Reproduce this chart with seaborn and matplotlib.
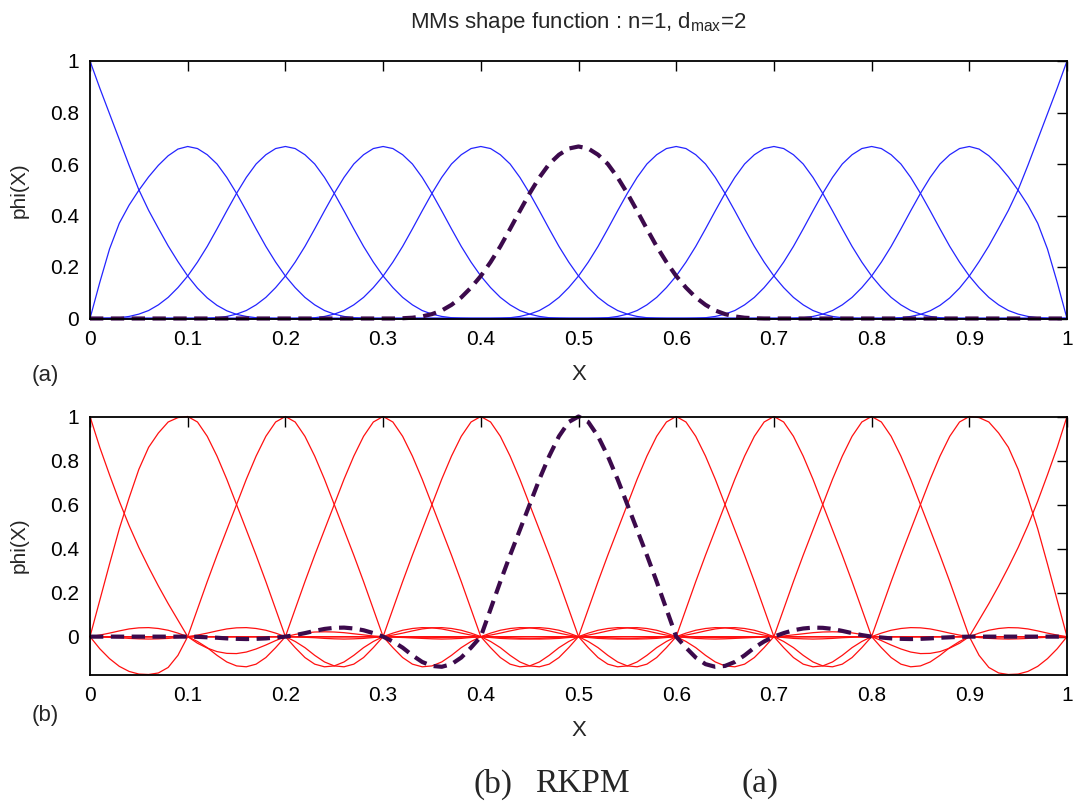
import numpy as np
import pandas as pd
import matplotlib
matplotlib.use("Agg")
import matplotlib.pyplot as plt
import seaborn as sns

# ---------------- data ----------------
nodes = [0.0, 0.1, 0.2, 0.3, 0.4, 0.5, 0.6, 0.7, 0.8, 0.9, 1.0]
highlight_node = 0.5

# distances from a node
offsets = [0.00, 0.01, 0.02, 0.03, 0.04, 0.05, 0.06, 0.07, 0.08, 0.09, 0.10,
           0.11, 0.12, 0.13, 0.14, 0.15, 0.16, 0.17, 0.18, 0.19, 0.20,
           0.21, 0.22, 0.23, 0.24, 0.25, 0.26, 0.27, 0.28, 0.29, 0.30,
           0.31, 0.32, 0.33, 0.34, 0.35, 0.36, 0.37, 0.38, 0.39, 0.40]

# (a) MLS, n=1, dmax=2 : interior node profile (symmetric)
mls_interior = [0.668, 0.660, 0.636, 0.600, 0.548, 0.486, 0.418, 0.348, 0.280, 0.219,
                0.165, 0.120, 0.082, 0.053, 0.031, 0.017, 0.008, 0.003, 0.001, 0.0, 0.0]
# boundary node (x=0) towards the interior
mls_edge = [1.0, 0.895, 0.795, 0.695, 0.595, 0.500, 0.420, 0.350, 0.282, 0.221,
            0.165, 0.118, 0.080, 0.051, 0.030, 0.016, 0.008, 0.003, 0.001, 0.0, 0.0]
# first node next to the boundary, boundary side
mls_near_edge = [0.668, 0.658, 0.632, 0.595, 0.550, 0.498, 0.440, 0.370, 0.270, 0.140, 0.0]

# (b) RKPM : interior node profile (symmetric)
rk_interior = [1.0, 0.975, 0.910, 0.820, 0.715, 0.600, 0.485, 0.370, 0.250, 0.125,
               0.0, -0.050, -0.095, -0.125, -0.137, -0.133, -0.115, -0.085, -0.050, -0.022,
               0.0, 0.016, 0.029, 0.037, 0.041, 0.040, 0.035, 0.026, 0.016, 0.007,
               0.0, -0.004, -0.008, -0.010, -0.011, -0.010, -0.008, -0.005, -0.003, -0.001, 0.0]
# boundary node (x=0) towards the interior
rk_edge = [1.0, 0.860, 0.735, 0.615, 0.505, 0.405, 0.315, 0.230, 0.150, 0.075,
           0.0, -0.030, -0.052, -0.068, -0.076, -0.077, -0.070, -0.056, -0.038, -0.018,
           0.0, 0.010, 0.017, 0.021, 0.022, 0.021, 0.018, 0.013, 0.008, 0.003,
           0.0, -0.002, -0.004, -0.005, -0.005, -0.005, -0.004, -0.003, -0.002, -0.001, 0.0]
# first node next to the boundary, boundary side
rk_near_edge = [1.0, 0.995, 0.975, 0.925, 0.860, 0.760, 0.630, 0.490, 0.330, 0.165, 0.0]
# second node from the boundary, boundary side beyond the first neighbour
rk_second_tail = [-0.085, -0.140, -0.165, -0.172, -0.170, -0.158, -0.135, -0.100, -0.055, 0.0]

x_ticks = [0, 0.1, 0.2, 0.3, 0.4, 0.5, 0.6, 0.7, 0.8, 0.9, 1]
x_tick_labels = ["0", "0.1", "0.2", "0.3", "0.4", "0.5", "0.6", "0.7", "0.8", "0.9", "1"]
y_ticks = [0, 0.2, 0.4, 0.6, 0.8, 1]
y_tick_labels = ["0", "0.2", "0.4", "0.6", "0.8", "1"]

title_text = r"MMs shape function : n=1, d$_{\mathregular{max}}$=2"
caption_parts = ["(b)", "RKPM", "(a)"]


# ---------------- build curves ----------------
def build_curve(c, left, right):
    xs, ys = [], []
    for o, v in zip(offsets[:len(left)][::-1], left[::-1]):
        xs.append(round(c - o, 6)); ys.append(v)
    for o, v in zip(offsets[1:len(right)], right[1:]):
        xs.append(round(c + o, 6)); ys.append(v)
    pts = [(x, y) for x, y in zip(xs, ys) if -1e-9 <= x <= 1 + 1e-9]
    if pts[0][0] > 1e-9:
        pts = [(0.0, 0.0)] + pts
    if pts[-1][0] < 1 - 1e-9:
        pts = pts + [(1.0, 0.0)]
    return pd.DataFrame(pts, columns=["X", "phi"])


def mls_curve(c):
    if c == 0.0:
        return build_curve(c, [1.0], mls_edge)
    if c == 1.0:
        return build_curve(c, mls_edge, [1.0])
    if c == 0.1:
        return build_curve(c, mls_near_edge, mls_interior)
    if c == 0.9:
        return build_curve(c, mls_interior, mls_near_edge)
    return build_curve(c, mls_interior, mls_interior)


def rk_curve(c):
    second = rk_interior[:11] + rk_second_tail
    if c == 0.0:
        return build_curve(c, [1.0], rk_edge)
    if c == 1.0:
        return build_curve(c, rk_edge, [1.0])
    if c == 0.1:
        return build_curve(c, rk_near_edge, rk_interior)
    if c == 0.9:
        return build_curve(c, rk_interior, rk_near_edge)
    if c == 0.2:
        return build_curve(c, second, rk_interior)
    if c == 0.8:
        return build_curve(c, rk_interior, second)
    return build_curve(c, rk_interior, rk_interior)


# ---------------- figure ----------------
sns.set_style("white")
plt.rcParams["font.family"] = ["Liberation Sans", "DejaVu Sans"]
plt.rcParams["mathtext.fontset"] = "custom"
plt.rcParams["mathtext.rm"] = "Liberation Sans"

fig = plt.figure(figsize=(10.74, 8.08), dpi=100)
ax1 = fig.add_axes([90 / 1074, 1 - 318.5 / 808, 977 / 1074, 257.5 / 808])
ax2 = fig.add_axes([90 / 1074, 1 - 674.5 / 808, 977 / 1074, 258 / 808])

dash_col = "#3c0a4c"
tick_fs = 15

for ax, curve_fn, col, ylo in [(ax1, mls_curve, "#2424ff", 0.0),
                               (ax2, rk_curve, "#ff1010", -0.172)]:
    for c in nodes:
        if c == highlight_node:
            continue
        df = curve_fn(c)
        sns.lineplot(data=df, x="X", y="phi", ax=ax, color=col, lw=0.9,
                     sort=False, estimator=None, clip_on=False)
    df = curve_fn(highlight_node)
    sns.lineplot(data=df, x="X", y="phi", ax=ax, color=dash_col, lw=3.0,
                 linestyle=(0, (3.2, 1.8)), sort=False, estimator=None,
                 clip_on=False)
    ax.set_xlim(0, 1)
    ax.set_ylim(ylo, 1)
    ax.set_xticks(x_ticks)
    ax.set_xticklabels(x_tick_labels)
    ax.set_yticks(y_ticks)
    ax.set_yticklabels(y_tick_labels)
    ax.tick_params(direction="in", length=7, width=1.0, top=True, right=True,
                   labelsize=tick_fs, pad=8, colors="black")
    for s in ax.spines.values():
        s.set_visible(True)
        s.set_color("black")
        s.set_linewidth(1.3)
    ax.set_xlabel("X", fontsize=16, labelpad=11)
    ax.set_ylabel("phi(X)", fontsize=15, labelpad=15)

ax1.set_title(title_text, fontsize=16, pad=24)

fig.text(45 / 1074, 1 - 375 / 808, "(a)", fontsize=16, ha="center", va="center")
fig.text(45 / 1074, 1 - 715 / 808, "(b)", fontsize=16, ha="center", va="center")

for txt, xc in zip(caption_parts, [493, 582, 760]):
    fig.text(xc / 1074, 1 - 784 / 808, txt, fontsize=24, ha="center", va="center",
             family=["Liberation Serif", "DejaVu Serif"])

fig.savefig("out.png", dpi=100)
